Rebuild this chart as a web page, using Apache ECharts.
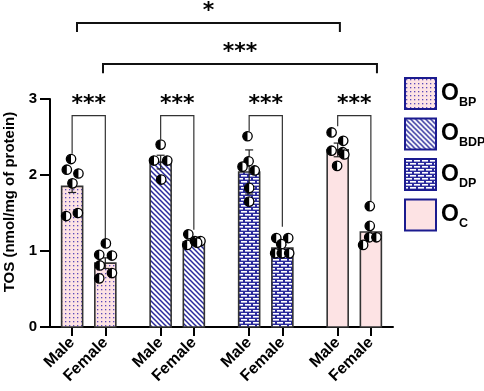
<!DOCTYPE html>
<html>
<head>
<meta charset="utf-8">
<script src="https://cdn.jsdelivr.net/npm/echarts@6/dist/echarts.min.js"></script>
<style>
  html, body { margin: 0; padding: 0; background: #fff; }
  #chart { width: 484px; height: 391px; }
</style>
</head>
<body>
<div id="chart"></div>
<script>
// ---- data ----
const groups = ['BP', 'BDP', 'DP', 'C']
const xPos = [0, 3, 8, 11, 16, 19, 24, 27]
const xLabels = ['Male', 'Female', 'Male', 'Female', 'Male', 'Female', 'Male', 'Female']
const means = [1.85, 0.84, 2.17, 1.12, 2.04, 1.04, 2.33, 1.25]
const errs = [0.08, 0.07, 0.09, 0.03, 0.29, 0.04, 0.09, 0.07]

// individual points [x, value]
const dots = [
  [-0.1, 2.21], [-0.48, 2.07], [0.57, 2.02], [0.03, 1.89], [-0.54, 1.46], [0.52, 1.50],
  [3.05, 1.10], [2.45, 0.95], [3.6, 0.94], [2.5, 0.81], [2.45, 0.64], [3.6, 0.71],
  [8, 2.40], [7.4, 2.19], [8.6, 2.19], [8.05, 1.94],
  [10.5, 1.22], [10.4, 1.08], [11.1, 1.13], [11.6, 1.13], [11.3, 1.11],
  [15.85, 2.51], [15.95, 2.18], [15.4, 2.11], [16.5, 2.06], [16, 1.83], [16, 1.65],
  [18.45, 1.17], [19.53, 1.17], [18.9, 1.09], [18.35, 0.97], [18.95, 0.97], [19.62, 0.97],
  [23.45, 2.56], [24.5, 2.45], [23.45, 2.32], [24.45, 2.30], [24.6, 2.27], [23.95, 2.12],
  [26.9, 1.59], [26.9, 1.33], [26.85, 1.18], [27.5, 1.18], [26.3, 1.08]
]

// brackets: [xLeft, xRight, yTop, yLeftEnd, yRightEnd, starY]
const pairBrackets = [
  [0, 3, 2.78, 2.28, 1.17, 2.93],
  [8, 11, 2.78, 2.47, 1.28, 2.93],
  [16, 19, 2.78, 2.57, 1.32, 2.93],
  [24, 27, 2.78, 2.64, 1.65, 2.93]
]
const pairStars = ['***', '***', '***', '***']
const bigBrackets = [
  [0.44, 24.2, 4.0, 3.88, 3.88, 4.15],
  [2.79, 27.55, 3.46, 3.34, 3.34, 3.62]
]
const bigStars = ['*', '***']

// ---- patterns ----
function makeTile(w, h, draw) {
  const c = document.createElement('canvas')
  c.width = w
  c.height = h
  draw(c.getContext('2d'))
  return { image: c, repeat: 'repeat' }
}
const pink = '#fde3e4'
const blue = '#2a2a9c'
const patterns = {
  BP: makeTile(4, 4, ctx => {
    ctx.fillStyle = pink
    ctx.fillRect(0, 0, 4, 4)
    ctx.fillStyle = '#5a48b8'
    ctx.fillRect(1, 1, 1.3, 1.3)
  }),
  BDP: makeTile(5, 5, ctx => {
    ctx.fillStyle = '#fff'
    ctx.fillRect(0, 0, 5, 5)
    ctx.strokeStyle = blue
    ctx.lineWidth = 1.5
    for (let k = -5; k <= 5; k += 5) {
      ctx.beginPath()
      ctx.moveTo(k - 1, -1)
      ctx.lineTo(k + 6, 6)
      ctx.stroke()
    }
  }),
  DP: makeTile(8, 6, ctx => {
    ctx.fillStyle = blue
    ctx.fillRect(0, 0, 8, 6)
    ctx.fillStyle = '#fff'
    ctx.fillRect(1, 1, 6, 1.6)
    ctx.fillRect(5, 4, 6, 1.6)
    ctx.fillRect(-3, 4, 6, 1.6)
  }),
  C: pink
}

// ---- series ----
const barSeries = groups.map((g, gi) => ({
  name: g,
  type: 'custom',
  itemStyle: { color: patterns[g] },
  data: [0, 1].map(k => {
    const i = gi * 2 + k
    return [xPos[i], means[i], errs[i]]
  }),
  encode: { x: 0, y: 1 },
  z: 2,
  renderItem: (params, api) => {
    const x = api.value(0), m = api.value(1), e = api.value(2)
    const top = api.coord([x, m])
    const base = api.coord([x, 0])
    const hi = api.coord([x, m + e])
    const lo = api.coord([x, m - e])
    const ln = { stroke: '#222', lineWidth: 1.2 }
    return {
      type: 'group',
      children: [
        { type: 'rect', shape: { x: top[0] - 10.5, y: top[1], width: 21, height: base[1] - top[1] },
          style: { fill: patterns[g], stroke: '#333', lineWidth: 1.6 } },
        { type: 'line', shape: { x1: hi[0], y1: hi[1], x2: lo[0], y2: lo[1] }, style: ln },
        { type: 'line', shape: { x1: hi[0] - 4, y1: hi[1], x2: hi[0] + 4, y2: hi[1] }, style: ln },
        { type: 'line', shape: { x1: lo[0] - 4, y1: lo[1], x2: lo[0] + 4, y2: lo[1] }, style: ln }
      ]
    }
  }
}))

const dotSeries = {
  type: 'custom',
  data: dots,
  encode: { x: 0, y: 1 },
  z: 5,
  renderItem: (params, api) => {
    const p = api.coord([api.value(0), api.value(1)])
    return {
      type: 'group',
      children: [
        { type: 'circle', shape: { cx: p[0], cy: p[1], r: 4.7 }, style: { fill: '#fff', stroke: '#000', lineWidth: 1.3 } },
        { type: 'sector', shape: { cx: p[0], cy: p[1], r0: 0, r: 4.7, startAngle: Math.PI / 2, endAngle: Math.PI * 1.5 },
          style: { fill: '#000' } }
      ]
    }
  }
}

function bracketSeries(rows, stars, lineColor, lineWidth) {
  return {
    type: 'custom',
    data: rows,
    encode: { x: [0, 1], y: [2, 3, 4] },
    z: 4,
    silent: true,
    renderItem: (params, api) => {
      const xl = api.value(0), xr = api.value(1), yt = api.value(2)
      const a = api.coord([xl, api.value(3)])
      const b = api.coord([xl, yt])
      const c = api.coord([xr, yt])
      const d = api.coord([xr, api.value(4)])
      const s = api.coord([(xl + xr) / 2, api.value(5)])
      return {
        type: 'group',
        children: [
          { type: 'polyline', shape: { points: [a, b, c, d] }, style: { stroke: lineColor, lineWidth: lineWidth, fill: null } },
          { type: 'text', x: s[0], y: s[1],
            style: { text: stars[params.dataIndex], fontFamily: 'DejaVu Sans', fontWeight: 'bold', fontSize: 22,
              fill: '#000', align: 'center', verticalAlign: 'middle' } }
        ]
      }
    }
  }
}

const chart = echarts.init(document.getElementById('chart'))
chart.setOption({
  animation: false,
  textStyle: { fontFamily: 'Liberation Sans' },
  grid: { left: 50, right: 91, top: 99, bottom: 64, containLabel: false, outerBoundsMode: 'none' },
  legend: {
    data: groups,
    orient: 'vertical',
    left: 404,
    top: 77,
    padding: 0,
    itemWidth: 31,
    itemHeight: 31,
    itemGap: 7.5,
    icon: 'rect',
    selectedMode: false,
    itemStyle: { borderColor: '#1b1b8f', borderWidth: 2 },
    formatter: name => '{o|O}{s|' + name + '}',
    textStyle: {
      rich: {
        o: { fontSize: 23, fontWeight: 'bold', color: '#000', fontFamily: 'Liberation Sans' },
        s: { fontSize: 12.5, fontWeight: 'bold', color: '#000', fontFamily: 'Liberation Sans', padding: [18, 0, 0, 0] }
      }
    }
  },
  xAxis: {
    type: 'value',
    min: -2,
    max: 29,
    splitLine: { show: false },
    axisLine: { show: true, onZero: false, lineStyle: { color: '#000', width: 2 } },
    axisTick: { show: true, customValues: xPos, length: 9, lineStyle: { color: '#000', width: 2 } },
    axisLabel: {
      customValues: xPos,
      rotate: 45,
      margin: 13,
      fontSize: 16,
      fontWeight: 'bold',
      color: '#000',
      formatter: v => xLabels[xPos.indexOf(v)]
    }
  },
  yAxis: {
    type: 'value',
    min: 0,
    max: 3,
    interval: 1,
    name: 'TOS (nmol/mg of protein)',
    nameLocation: 'middle',
    nameGap: 23,
    nameTextStyle: { fontSize: 15, fontWeight: 'bold', color: '#000', padding: [0, 0, 0, 22] },
    splitLine: { show: false },
    axisLine: { show: true, onZero: false, lineStyle: { color: '#000', width: 2 } },
    axisTick: { show: true, length: 10, lineStyle: { color: '#000', width: 2 } },
    axisLabel: { fontSize: 15, fontWeight: 'bold', color: '#000', margin: 13 }
  },
  series: [
    ...barSeries,
    dotSeries,
    bracketSeries(pairBrackets, pairStars, '#333', 1.2),
    bracketSeries(bigBrackets, bigStars, '#111', 2)
  ]
})
</script>
</body>
</html>
